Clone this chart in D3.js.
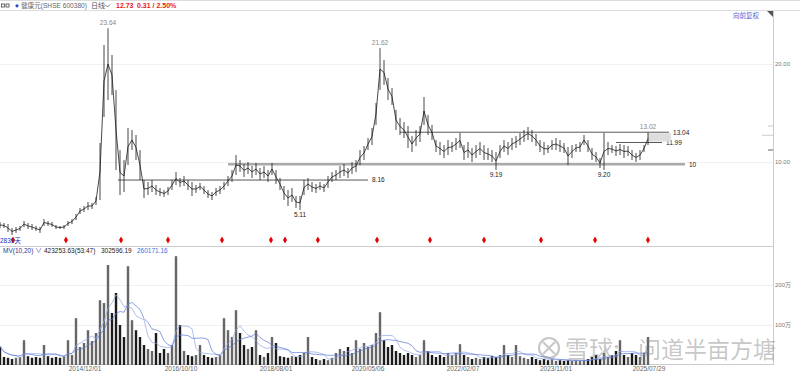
<!DOCTYPE html>
<html>
<head>
<meta charset="utf-8">
<script src="https://cdn.jsdelivr.net/npm/d3@7"></script>
<style>
  body { margin: 0; background: #fff; }
  svg { display: block; font-family: "Liberation Sans", "Noto Sans CJK SC", sans-serif; }
</style>
</head>
<body>
<svg id="chart" width="800" height="375"></svg>
<script>
// sampled daily K-line (high / low per sample), forward-adjusted, yuan
const priceHigh = [3.88,3.78,3.67,3.27,3.37,3.47,3.98,3.78,3.67,3.47,3.37,4.18,3.98,3.88,3.57,3.47,3.57,3.98,4.18,4.69,
  5.31,5.51,5.92,5.82,6.43,11.94,21.94,23.64,20.92,17.35,11.22,10.20,13.47,13.27,12.76,11.22,8.16,7.96,8.16,7.65,
  7.35,7.14,7.45,8.16,8.98,8.37,8.57,8.16,7.96,7.65,7.86,7.55,7.14,6.94,7.35,7.55,7.96,8.57,9.18,10.71,
  10.20,9.80,10.00,9.59,9.90,9.39,9.59,9.18,9.90,9.18,8.37,7.55,7.14,7.35,6.53,6.53,8.16,8.37,7.96,7.76,
  7.96,7.76,8.57,8.98,9.18,9.59,9.80,9.39,10.00,10.20,11.22,11.63,12.45,13.47,16.02,21.62,20.41,18.57,17.55,15.31,
  14.49,14.08,13.67,12.65,13.27,13.67,16.63,14.80,13.78,12.24,12.04,11.73,12.24,12.04,12.45,12.96,11.73,12.04,11.43,11.73,
  12.04,11.73,11.43,11.22,11.02,11.73,12.24,12.04,12.45,12.65,12.96,13.27,13.57,13.27,12.86,12.24,12.04,11.73,12.24,12.45,
  12.24,11.94,11.53,11.73,11.84,12.04,12.76,12.24,11.43,11.02,10.41,12.96,12.04,11.73,11.63,11.84,11.73,11.63,11.22,10.92,
  11.22,11.73,13.02];
const priceLow = [3.27,3.27,2.86,2.55,2.76,2.96,3.37,3.16,3.06,2.96,2.76,3.47,3.47,3.37,3.16,3.16,3.16,3.47,3.67,4.08,
  4.69,4.90,5.10,5.20,5.61,6.12,14.59,16.33,16.84,9.18,6.63,6.94,9.69,11.22,10.20,8.16,6.33,6.63,6.94,6.63,
  6.53,6.43,6.63,7.14,7.65,7.45,7.55,7.14,6.53,6.84,7.14,6.73,6.33,6.12,6.53,6.73,7.14,7.55,7.96,8.67,
  8.98,8.47,8.78,8.37,8.67,8.16,8.37,7.96,8.67,7.76,7.14,6.12,5.51,5.92,5.31,5.11,6.63,7.14,6.94,6.84,
  7.14,6.94,7.35,7.96,8.16,8.37,8.57,8.37,8.78,8.98,9.69,10.20,11.22,11.73,13.78,17.35,17.86,16.33,15.82,13.27,
  12.76,12.45,11.43,11.02,11.63,12.04,13.78,12.76,12.24,11.02,10.71,10.41,10.71,11.02,11.22,11.43,10.20,10.41,10.00,10.41,
  10.71,10.20,10.20,10.00,9.19,10.41,11.02,10.71,11.22,11.43,11.73,12.04,12.24,12.04,11.63,11.02,10.71,10.92,11.22,11.22,
  11.02,10.92,9.69,10.41,11.02,11.02,11.73,11.02,10.20,10.00,9.39,9.20,10.71,10.92,10.61,10.71,10.41,10.61,10.20,10.00,
  10.20,11.02,11.73];
// volume per sample, 万手
const volume = [46,20,18,15,18,20,62,22,18,20,18,50,22,18,20,18,22,62,25,117,
  45,55,87,60,80,162,155,250,130,180,100,70,247,112,87,70,50,40,35,80,
  30,40,30,50,272,100,35,25,22,25,50,25,20,18,20,25,117,87,70,137,
  80,50,40,45,87,25,20,30,70,55,22,20,18,22,20,25,30,70,20,15,
  12,15,12,18,30,40,35,45,30,62,40,55,45,50,80,132,62,45,50,35,
  30,25,30,25,20,25,62,35,25,20,25,20,30,25,30,52,25,20,15,18,
  15,20,18,22,20,25,50,25,20,50,22,18,15,20,15,12,15,12,15,10,
  12,10,12,10,12,10,12,15,20,25,15,30,20,25,35,62,25,20,30,25,
  20,30,70];

const axisDates = ["2013/04/08","2014/12/01","2016/10/10","2018/08/01","2020/05/06","2022/02/07","2023/11/01","2025/07/29"];
const dateTickLabels = axisDates.slice(1);
const priceTicks = [10, 20];
const volumeTicks = [100, 200];
const eventDates = ["2013/07/09","2014/07/19","2015/08/13","2016/07/10","2017/07/22","2018/06/27","2018/10/03",
  "2019/05/21","2020/07/06","2021/06/29","2022/06/30","2023/07/22","2024/07/25","2025/07/22"];
const levelValues = [8.16, 9.76, 13.04, 11.99];
const levelLabels = ["8.16", "10", "13.04", "11.99"];
const levelStart = ["2015/07/22", "2017/09/02", "2020/12/08", "2024/12/15"];
const levelEnd = ["2020/05/06", "2026/04/01", "2025/12/13", "2025/10/26"];

const parse = d3.timeParse("%Y/%m/%d");
const svg = d3.select("#chart");
const W = 773;

const x = d3.scaleLinear().domain([0, priceHigh.length - 1]).range([0, 648]);
const t = d3.scaleTime().domain(axisDates.map(parse)).range([0, 85, 181, 276, 368, 463, 556, 649]);
const y = d3.scaleLinear().domain([0, 20]).range([260, 64]);
const yv = d3.scaleLinear().domain([0, 200]).range([365, 285]);

// frame
svg.append("line").attr("x1", 0).attr("x2", 800).attr("y1", 0.5).attr("y2", 0.5).attr("stroke", "#ddd");
svg.append("line").attr("x1", 0).attr("x2", 800).attr("y1", 10.5).attr("y2", 10.5).attr("stroke", "#ddd");
svg.append("line").attr("x1", W + 0.5).attr("x2", W + 0.5).attr("y1", 10).attr("y2", 365).attr("stroke", "#ccc");
svg.append("line").attr("x1", 0).attr("x2", W).attr("y1", 246.5).attr("y2", 246.5).attr("stroke", "#ccc");
svg.append("line").attr("x1", 0).attr("x2", W).attr("y1", 364.5).attr("y2", 364.5).attr("stroke", "#ccc");
svg.append("path").attr("d", "M767,11L773,11L773,17Z").attr("fill", "#555");

// toolbar
const bar = svg.append("g").attr("font-size", 7);
bar.append("rect").attr("x", 1.5).attr("y", 4).attr("width", 3).attr("height", 3).attr("fill", "none").attr("stroke", "#444").attr("stroke-width", 0.8);
bar.append("rect").attr("x", 6).attr("y", 4).attr("width", 3).attr("height", 3).attr("fill", "none").attr("stroke", "#444").attr("stroke-width", 0.8);
bar.append("circle").attr("cx", 17).attr("cy", 5.8).attr("r", 1.6).attr("fill", "#2a4fc4");
bar.append("text").attr("x", 21).attr("y", 8.3).attr("font-size", 6.6).attr("fill", "#666").text("健康元(SHSE 600380)");
bar.append("text").attr("x", 91).attr("y", 8.3).attr("fill", "#555").text("日线");
bar.append("path").attr("d", "M105,4.5L107.5,7L110,4.5").attr("fill", "none").attr("stroke", "#555").attr("stroke-width", 0.8);
bar.append("text").attr("x", 116).attr("y", 8.3).attr("fill", "#e41a1a").attr("font-weight", "bold").text("12.73");
bar.append("text").attr("x", 137).attr("y", 8.3).attr("fill", "#e41a1a").attr("font-weight", "bold").text("0.31 / 2.50%");
svg.append("text").attr("x", 733).attr("y", 17.5).attr("font-size", 6.5).attr("fill", "#5a5ad0").text("向前复权");

// grids + right axis
svg.selectAll(".pgrid").data(priceTicks).join("line")
  .attr("x1", 0).attr("x2", W).attr("y1", d => y(d) + 0.5).attr("y2", d => y(d) + 0.5).attr("stroke", "#f0f0f0");
svg.selectAll(".plab").data(priceTicks).join("text")
  .attr("x", 775).attr("y", d => y(d) + 2.3).attr("font-size", 6).attr("fill", "#777").text(d => d3.format(".2f")(d));
svg.selectAll(".vgrid").data(volumeTicks).join("line")
  .attr("x1", 0).attr("x2", W).attr("y1", d => yv(d) + 0.5).attr("y2", d => yv(d) + 0.5).attr("stroke", "#f0f0f0");
svg.selectAll(".vlab").data(volumeTicks).join("text")
  .attr("x", 775).attr("y", d => yv(d) + 2.3).attr("font-size", 6).attr("fill", "#777").text(d => d + "万");
const markPrices = [13.67, 12.73, 11.22];
svg.selectAll(".mk").data(markPrices).join("line")
  .attr("x1", (d, i) => i === 1 ? 762 : 768).attr("x2", W).attr("y1", d => y(d)).attr("y2", d => y(d))
  .attr("stroke", (d, i) => i === 2 ? "#999" : "#bbb").attr("stroke-width", (d, i) => i === 2 ? 1.5 : 0.8);

// level lines
levelValues.forEach((v, i) => {
  const x1 = t(parse(levelStart[i])), x2 = t(parse(levelEnd[i]));
  svg.append("line").attr("x1", x1).attr("x2", x2).attr("y1", y(v)).attr("y2", y(v))
    .attr("stroke", i === 1 ? "#aaa" : "#444").attr("stroke-width", i === 1 ? 2.5 : 0.9);
  svg.append("text").attr("x", x2 + 4).attr("y", y(v) + 2.3).attr("font-size", 6.5).attr("fill", "#222").text(levelLabels[i]);
});
// shaded zone at last bar
svg.append("rect").attr("x", x(priceHigh.length - 1)).attr("y", y(13.04) + 1)
  .attr("width", t(parse("2025/12/27")) - x(priceHigh.length - 1)).attr("height", y(12.2) - y(13.04))
  .attr("fill", "#ddd");

// price: whiskers (high-low) plus a line through each sample's mid
const mid = priceHigh.map((h, i) => (h + priceLow[i]) / 2);
svg.append("g").selectAll("line").data(priceHigh).join("line")
  .attr("x1", (d, i) => x(i)).attr("x2", (d, i) => x(i))
  .attr("y1", d => y(d)).attr("y2", (d, i) => y(priceLow[i]))
  .attr("stroke", "#1a1a1a").attr("stroke-width", 0.8);
svg.append("path").attr("d", d3.line().x((d, i) => x(i)).y(d => y(d))(mid))
  .attr("fill", "none").attr("stroke", "#1a1a1a").attr("stroke-width", 0.8);

// extreme labels
const hiLabels = [[27, "23.64"], [95, "21.62"], [162, "13.02"]];
svg.selectAll(".hl").data(hiLabels).join("text")
  .attr("x", d => x(d[0])).attr("y", d => y(priceHigh[d[0]]) - 3).attr("text-anchor", "middle")
  .attr("font-size", 6.5).attr("fill", "#888").text(d => d[1]);
const loLabels = [[75, "5.11"], [124, "9.19"], [151, "9.20"]];
svg.selectAll(".ll").data(loLabels).join("text")
  .attr("x", d => x(d[0])).attr("y", d => y(priceLow[d[0]]) + 7.5).attr("text-anchor", "middle")
  .attr("font-size", 6.5).attr("fill", "#222").text(d => d[1]);

// event markers
svg.selectAll(".ev").data(eventDates).join("path")
  .attr("transform", d => `translate(${t(parse(d))},240)`)
  .attr("d", d3.symbol(d3.symbolDiamond, 14)).attr("fill", "#e60000");
svg.append("text").attr("x", 0).attr("y", 242.5).attr("font-size", 6.5).attr("fill", "#2233bb").text("2839天");

// volume
svg.append("g").selectAll("rect").data(volume).join("rect")
  .attr("x", (d, i) => x(i) - 1.2).attr("width", 2.4)
  .attr("y", d => yv(d)).attr("height", d => yv(0) - yv(d))
  .attr("fill", (d, i) => i > 0 && mid[i] >= mid[i - 1] ? "#666" : "#1c1c1c");
const ma = (n) => volume.map((v, i) => d3.mean(volume.slice(Math.max(0, i - n + 1), i + 1)));
[[ma(5), "#8fa6e6"], [ma(9), "#5a78d4"]].forEach(([s, c]) => {
  svg.append("path").attr("d", d3.line().x((d, i) => x(i)).y(d => yv(d))(s))
    .attr("fill", "none").attr("stroke", c).attr("stroke-width", 0.7);
});
const mv = svg.append("g").attr("font-size", 6.5);
mv.append("text").attr("x", 3).attr("y", 252.5).attr("fill", "#2a3a9a").text("MV(10,20) ∨");
mv.append("text").attr("x", 44).attr("y", 252.5).attr("fill", "#222").text("423253.63(53:47)");
mv.append("text").attr("x", 101).attr("y", 252.5).attr("fill", "#222").text("302596.19");
mv.append("text").attr("x", 137).attr("y", 252.5).attr("fill", "#3a6ee8").text("260171.16");

// date axis
svg.selectAll(".dl").data(dateTickLabels).join("text")
  .attr("x", d => t(parse(d))).attr("y", 370.8).attr("text-anchor", "middle")
  .attr("font-size", 6.5).attr("fill", "#666").text(d => d);

// watermark
const wm = svg.append("g").attr("fill", "rgba(130,130,130,0.45)");
wm.append("circle").attr("cx", 549).attr("cy", 348).attr("r", 10).attr("fill", "none")
  .attr("stroke", "rgba(130,130,130,0.45)").attr("stroke-width", 2.2);
wm.append("path").attr("d", "M543,342L555,354M555,342L543,354").attr("stroke", "rgba(130,130,130,0.45)").attr("stroke-width", 2);
wm.append("text").attr("x", 565).attr("y", 358).attr("font-size", 24).attr("font-family", "Noto Sans CJK SC").text("雪球:");
wm.append("text").attr("x", 638).attr("y", 358).attr("font-size", 23).attr("font-family", "Noto Sans CJK SC").text("问道半亩方塘");
</script>
</body>
</html>
